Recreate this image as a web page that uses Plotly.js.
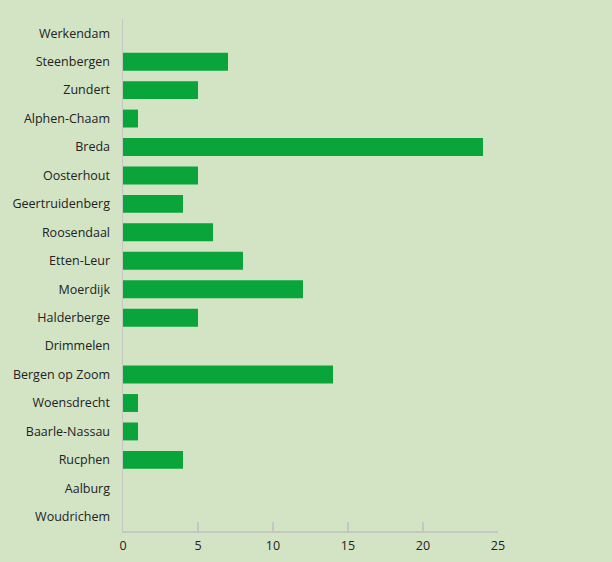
<!DOCTYPE html>
<html><head><meta charset="utf-8">
<script src="https://cdn.plot.ly/plotly-3.0.1.min.js"></script>
<style>html,body{margin:0;padding:0;background:#d3e4c5;}</style>
</head><body>
<div id="chart" style="width:612px;height:562px;"></div>
<script>
const gemeenten = ["Werkendam","Steenbergen","Zundert","Alphen-Chaam","Breda","Oosterhout","Geertruidenberg","Roosendaal","Etten-Leur","Moerdijk","Halderberge","Drimmelen","Bergen op Zoom","Woensdrecht","Baarle-Nassau","Rucphen","Aalburg","Woudrichem"];
const aantallen = [0,7,5,1,24,5,4,6,8,12,5,0,14,1,1,4,0,0];
const xTicks = [0,5,10,15,20,25];

Plotly.newPlot('chart', [{
  type:'bar', orientation:'h',
  y: gemeenten, x: aantallen,
  marker:{color:'#0aa53a'},
  hoverinfo:'x+y'
}], {
  width:612, height:562,
  paper_bgcolor:'#d3e4c5', plot_bgcolor:'#d3e4c5',
  margin:{l:122.5, r:114, t:19, b:31},
  bargap:0.37,
  font:{family:'Open Sans, sans-serif', size:12.5, color:'#222'},
  showlegend:false,
  xaxis:{range:[0,25], tickvals:xTicks, ticktext:xTicks.map(String),
    showgrid:false, zeroline:false, showline:true, linecolor:'#c4c8c0', linewidth:1.5,
    ticks:'inside', ticklen:9, tickcolor:'#c4c8c0', tickwidth:1.5, ticklabelstandoff:2, fixedrange:true},
  yaxis:{type:'category', autorange:'reversed', showgrid:false, zeroline:false,
    showline:true, linecolor:'#c4c8c0', linewidth:1.5, ticks:'', ticklabelstandoff:9, fixedrange:true}
}, {displayModeBar:false, staticPlot:true});
</script>
</body></html>
